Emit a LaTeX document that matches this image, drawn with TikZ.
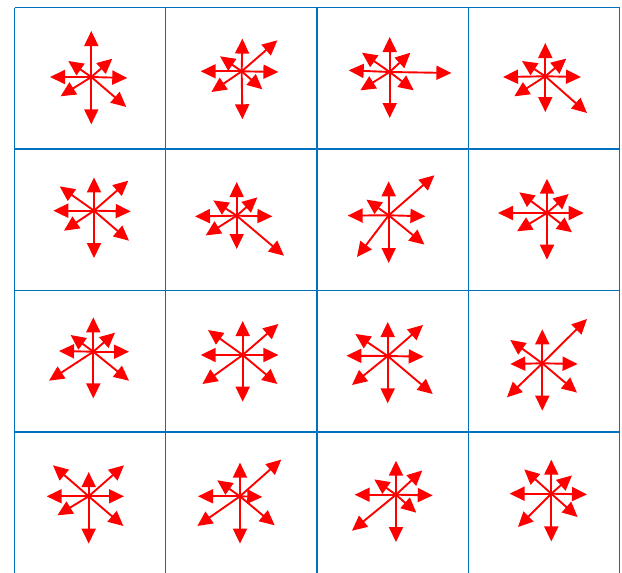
\documentclass[tikz,border=0pt]{standalone}
\usetikzlibrary{arrows.meta}
\definecolor{gridblue}{RGB}{0,114,189}
\newcommand\arrowstar[3]{%
  \coordinate (#1) at #2;
  \foreach \dx/\dy in {#3} \draw[vec] (#1) -- ++(\dx,\dy);
}
\begin{document}
\begin{tikzpicture}[x=1pt,y=-1pt,
  vec/.style={draw=red,line width=1.9pt,-{Triangle[length=15pt,width=14pt]}},
  gridline/.style={draw=gridblue,line width=1.3pt}]
\useasboundingbox (0,0) rectangle (622,573);
% grid
\foreach \x in {14.5,165.75,317,468.25,619.5} \draw[gridline] (\x,7.5) -- (\x,573);
\foreach \y in {7.5,149,290.5,432} \draw[gridline] (14.5,\y) -- (619.5,\y);
% row 1
\arrowstar{c00}{(91.3,77)}{0/-46,0/47.3,36/1,-41.3/0,21/-18.3,-23/-16,35/30,-30.7/19.3}
\arrowstar{c01}{(241.7,71.3)}{0.7/-32.7,0.7/48,36.7/0.7,-41/0,35.7/-31,-21.7/-15,20.7/18,-30.3/20.7}
\arrowstar{c02}{(389.7,72)}{0/-35,0/46,61.7/1,-41/-1.7,20.7/-19.3,-27.7/-19.3,24/18.3,-29.3/18.3}
\arrowstar{c03}{(545.3,76.3)}{0/-33.3,0/35.7,35.7/0.7,-42.3/0.7,21/-17.7,-23.3/-15.3,41.7/36.7,-31/20}
% row 2
\arrowstar{c10}{(94,210.7)}{0/-33.3,0/47.3,36.7/0.7,-40.7/0,34.3/-30,-34.3/-24.3,35/30,-30/20}
\arrowstar{c11}{(236.7,215.7)}{0/-33.7,0/33.3,35.7/0.7,-41.7/0.7,20.7/-18.3,-23.3/-15.3,47.3/40,-31/19.7}
\arrowstar{c12}{(388.7,215.3)}{0/-34,0/47.7,36.7/1,-41/0.3,45.7/-40,-22.3/-15.7,35.7/29.3,-31.7/41.7}
\arrowstar{c13}{(547,213)}{0/-34.3,0/46.7,36.7/0,-49/0,21.7/-19,-27.7/-20.7,25/19.3,-30/18.3}
% row 3
\arrowstar{c20}{(93.3,351.7)}{0/-34.3,0/46.7,35.7/0,-34.3/-0.7,21.7/-19,-22.7/-16.7,35.7/29,-44.3/29}
\arrowstar{c21}{(242.7,355)}{0/-34,0/46.7,35.7/0,-42/0,35.7/-31,-34.7/-25,34.7/29,-40.3/29}
\arrowstar{c22}{(387.7,356)}{0/-34,0/47.3,36/0.7,-41.3/-0.3,35.3/-31,-32.3/-22,45/38,-35.7/29}
\arrowstar{c23}{(542.3,363.3)}{0/-34,0/47.3,35.3/0.7,-32/0.7,44.7/-44.3,-32/-23.3,34.7/29.3,-35.3/34}
% row 4
\arrowstar{c30}{(88.7,496.3)}{0/-24.3,0/47.3,35.3/0,-42/0,35.3/-31,-35.7/-31,34.7/29.7,-31.3/19}
\arrowstar{c31}{(240,496.3)}{0/-33.7,0/47.3,22.3/0.7,-42/0,41.3/-36.7,-22.7/-16,34.7/29,-42.7/29.7}
\arrowstar{c32}{(396,494.7)}{0/-34,0/47.3,36.7/0.7,-41.3/0,26.3/-24.3,-21.7/-15.3,20.3/18,-44/36}
\arrowstar{c33}{(551.3,493.7)}{0/-34,0/47.7,35.7/0.7,-41.7/0,20.7/-18.3,-27/-24.3,26.3/23.3,-33.3/33.3}
\end{tikzpicture}
\end{document}
